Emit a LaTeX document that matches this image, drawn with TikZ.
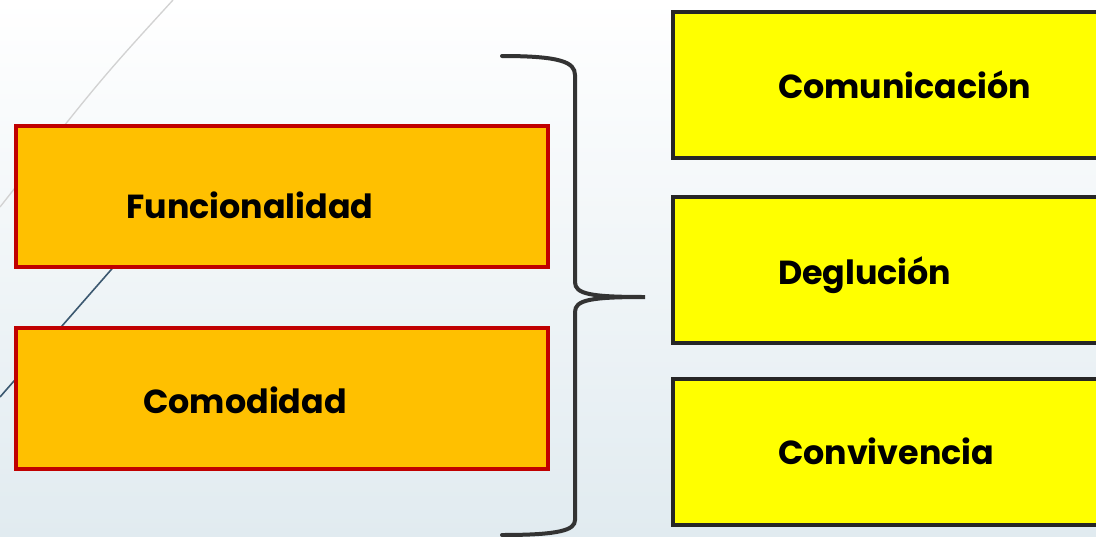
\documentclass[tikz,border=0pt]{standalone}
\usepackage{fontspec}
\setmainfont{Poppins}
\usetikzlibrary{positioning}

\definecolor{naranja}{HTML}{FFC000}
\definecolor{rojo}{HTML}{C00000}
\definecolor{amarillo}{HTML}{FFFF00}
\definecolor{borde}{HTML}{262626}
\definecolor{llave}{HTML}{333333}
\definecolor{fondo}{HTML}{E1EBF0}
\definecolor{linea}{HTML}{3B5870}

\begin{document}
\begin{tikzpicture}[x=0.75pt,y=-0.75pt,line width = 3pt,
	orangebox/.style={draw=rojo, fill=naranja, rectangle, minimum width=399pt, minimum height=105.5pt, anchor=north west, inner sep=0pt},
	yellowbox/.style={draw=borde, fill=amarillo, rectangle, minimum width=400pt, minimum height=109.5pt, anchor=north west, inner sep=0pt},
	lbl/.style={font=\fontsize{25}{30}\selectfont\bfseries, text=black, inner sep=0pt}]

\useasboundingbox (0,0) rectangle (1096,536);
\clip (0,0) rectangle (1096,536);

%fondo
\shade[top color=white, bottom color=fondo] (0,0) rectangle (1096,536);
\draw[line width=1pt, color=gray!35] (173,0) .. controls (100,80) .. (0,207);
\draw[line width=1.2pt, color=linea] (117,263) -- (0,397);

% cajas izquierda
\node[orangebox] (func) at (14,124) {};
\node[orangebox] (comod) at (14,326) {};
\node[lbl] (funcLbl) at (250,205) {Funcionalidad};
\node[lbl] (comodLbl) at (245,400) {Comodidad};

% cajas derecha
\foreach \y/\name in {10/comun, 195/deglu, 377/convi}
	\node[yellowbox] (\name) at (671,\y) {};

\node[lbl, anchor=west] (comunLbl) at (776,85) {Comunicación};
\node[lbl, anchor=west] (degluLbl) at (776,275) {Deglución};
\node[lbl, anchor=west] (conviLbl) at (776,451) {Convivencia};

% llave
\coordinate (tip) at (645,297);
\draw[color=llave, line cap=round] (502,56) .. controls (560,56) and (575,62) .. (575,75) -- (575,282)
	.. controls (575,294) and (590,297) .. (tip)
	.. controls (590,297) and (575,300) .. (575,312) -- (575,520)
	.. controls (575,530) and (560,535) .. (502,535);

\end{tikzpicture}
\end{document}
